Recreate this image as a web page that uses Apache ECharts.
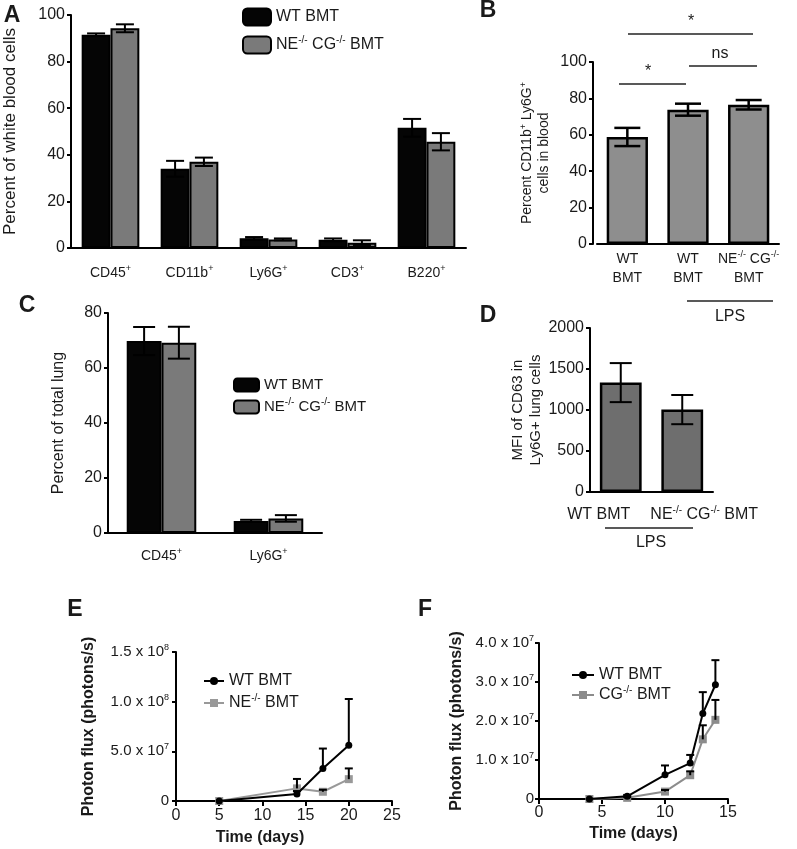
<!DOCTYPE html>
<html><head><meta charset="utf-8">
<script src="https://cdn.jsdelivr.net/npm/echarts@6/dist/echarts.min.js"></script>
<style>html,body{margin:0;padding:0;background:#fff}#c{width:797px;height:849px}</style>
</head><body><div id="c"></div>
<script>
// ---------- Panel A ----------
const catA = ['CD45+', 'CD11b+', 'Ly6G+', 'CD3+', 'B220+'];
const wtA = [91.5, 34.0, 4.2, 3.5, 51.6];
const wtAErr = [0.6, 3.4, 0.5, 0.6, 3.8];
const koA = [94.3, 37.0, 3.7, 2.3, 45.6];
const koAErr = [1.7, 1.8, 0.4, 1.0, 3.7];
// ---------- Panel B ----------
const catB = ['WT BMT', 'WT BMT LPS', 'NE-/- CG-/- BMT LPS'];
const labelB = ['WT\nBMT', 'WT\nBMT', 'NE{s|-/-} CG{s|-/-}\nBMT'];
const valB = [58.8, 73.8, 76.5];
const errB = [5.0, 3.3, 2.6];
// ---------- Panel C ----------
const catC = ['CD45+', 'Ly6G+'];
const wtC = [69.8, 4.4];
const wtCErr = [5.1, 0.4];
const koC = [69.2, 5.3];
const koCErr = [5.8, 1.2];
// ---------- Panel D ----------
const catD = ['WT BMT', 'NE-/- CG-/- BMT'];
const labelD = ['WT BMT', 'NE{s|-/-} CG{s|-/-} BMT'];
const valD = [1334, 1005];
const errD = [238, 178];
// ---------- Panel E ----------
const daysE = [5, 14, 17, 20];
const wtE = [0, 7.0e6, 3.28e7, 5.62e7];
const wtEErr = [0, 3.0e6, 2.0e7, 4.65e7];
const neE = [0, 1.27e7, 0.93e7, 2.2e7];
const neEErr = [0, 9.5e6, 2.0e6, 1.08e7];
// ---------- Panel F ----------
const daysF = [4, 7, 10, 12, 13, 14];
const wtF = [0, 0.7e6, 6.2e6, 9.2e6, 21.9e6, 29.3e6];
const wtFErr = [0, 0.3e6, 2.4e6, 2.1e6, 5.5e6, 6.3e6];
const cgF = [0, 0.3e6, 1.9e6, 6.1e6, 15.3e6, 20.3e6];
const cgFErr = [0, 0.2e6, 0.4e6, 1.0e6, 3.6e6, 5.1e6];

const FONT = 'Liberation Sans, Arial, Helvetica, sans-serif';
const TXT = '#1a1a1a';
const SUP = { fontSize: 9, verticalAlign: 'top', lineHeight: 10, fontFamily: FONT, color: TXT };
const names = {
  A_wt: 'WT BMT', A_ko: 'NE{s|-/-} CG{s|-/-} BMT',
  C_wt: 'WT BMT', C_ko: 'NE{s|-/-} CG{s|-/-} BMT',
  E_wt: 'WT BMT', E_ne: 'NE{s|-/-} BMT',
  F_wt: 'WT BMT', F_cg: 'CG{s|-/-} BMT'
};
const supPlus = v => v.replace(/\+$/, '{s|+}');
const plain = v => String(v);
function sciFmt(v) {
  if (v === 0) return '0';
  const e = Math.floor(Math.log10(v) + 1e-9);
  return (v / Math.pow(10, e)).toFixed(1) + ' x 10{s|' + e + '}';
}

const axisLine = { lineStyle: { color: '#000', width: 2 } };
const axisTick = { length: 5, lineStyle: { color: '#000', width: 2 } };

function catX(gi, data, fmt, margin, extra) {
  return Object.assign({
    type: 'category', gridIndex: gi, data: data,
    axisLine: axisLine, axisTick: Object.assign({ alignWithLabel: true }, axisTick),
    axisLabel: { color: TXT, fontFamily: FONT, fontSize: 14, lineHeight: 18, margin: margin,
      formatter: fmt, rich: { s: SUP }, interval: 0 },
    splitLine: { show: false }
  }, extra || {});
}
function valY(gi, max, interval, name, nameGap, nameStyle, extra) {
  return Object.assign({
    type: 'value', gridIndex: gi, min: 0, max: max, interval: interval,
    axisLine: { show: true, lineStyle: { color: '#000', width: 2 } },
    axisTick: { show: true, length: 4, lineStyle: { color: '#000', width: 2 } },
    axisLabel: { color: TXT, fontFamily: FONT, fontSize: 16, margin: 6, formatter: plain },
    splitLine: { show: false },
    name: name, nameLocation: 'middle', nameGap: nameGap,
    nameTextStyle: Object.assign({ color: TXT, fontFamily: FONT, rich: { s: SUP } }, nameStyle)
  }, extra || {});
}

function errSeries(xi, xs, vals, errs, offsetFrac, capHalf, oneSided, lw) {
  return {
    type: 'custom', xAxisIndex: xi, yAxisIndex: xi, z: 10, silent: true,
    data: vals.map((v, i) => [xs ? xs[i] : i, v, errs[i]]),
    renderItem(params, api) {
      const xv = api.value(0), v = api.value(1), e = api.value(2);
      if (!e) return { type: 'group', children: [] };
      const band = api.size([1, 0])[0];
      const c = api.coord([xv, v]);
      const x = c[0] + offsetFrac * band;
      const top = api.coord([xv, v + e])[1];
      const bot = oneSided ? c[1] : api.coord([xv, v - e])[1];
      const st = { stroke: '#000', lineWidth: lw };
      const ch = [
        { type: 'line', shape: { x1: x, y1: top, x2: x, y2: bot }, style: st },
        { type: 'line', shape: { x1: x - capHalf, y1: top, x2: x + capHalf, y2: top }, style: st }
      ];
      if (!oneSided) ch.push({ type: 'line', shape: { x1: x - capHalf, y1: bot, x2: x + capHalf, y2: bot }, style: st });
      return { type: 'group', children: ch };
    }
  };
}

function barS(id, gi, vals, color, gap, bw) {
  return {
    type: 'bar', name: id, xAxisIndex: gi, yAxisIndex: gi, data: vals,
    barGap: '0%', barCategoryGap: gap, z: 2,
    itemStyle: { color: color, borderColor: '#000', borderWidth: bw }
  };
}
function lineS(id, gi, xs, vals, color, symbol, size, z) {
  return {
    type: 'line', name: id, xAxisIndex: gi, yAxisIndex: gi,
    data: xs.map((x, i) => [x, vals[i]]),
    symbol: symbol, symbolSize: size, showSymbol: true, z: z,
    lineStyle: { color: color, width: 2 },
    itemStyle: { color: color, borderColor: color, borderWidth: 0 }
  };
}

const legendBase = {
  orient: 'vertical', selectedMode: false,
  textStyle: { color: TXT, fontFamily: FONT, fontSize: 16, lineHeight: 20, rich: { s: Object.assign({}, SUP, { fontSize: 10 }) } },
  formatter: n => names[n]
};

const gray = '#7a7a7a';
const option = {
  animation: false,
  backgroundColor: '#fff',
  textStyle: { fontFamily: FONT },
  grid: [
    { left: 71, top: 15, width: 395, height: 233, outerBoundsMode: 'none' },
    { left: 597, top: 62, width: 182, height: 182, outerBoundsMode: 'none' },
    { left: 108, top: 313, width: 214, height: 220, outerBoundsMode: 'none' },
    { left: 590, top: 328, width: 123, height: 164, outerBoundsMode: 'none' },
    { left: 176, top: 652, width: 216, height: 149, outerBoundsMode: 'none' },
    { left: 539, top: 643, width: 189, height: 156, outerBoundsMode: 'none' }
  ],
  xAxis: [
    catX(0, catA, v => supPlus(v), 16),
    catX(1, catB, (v, i) => labelB[i], 6, { axisLabel: { color: TXT, fontFamily: FONT, fontSize: 14, lineHeight: 19, margin: 6,
      formatter: (v, i) => labelB[i], rich: { s: SUP }, interval: 0 } }),
    catX(2, catC, v => supPlus(v), 14),
    catX(3, catD.map((c, i) => ({ value: c, textStyle: { padding: i === 0 ? [0, 44, 0, 0] : [0, 0, 0, 44] } })),
      (v, i) => labelD[i], 13, { axisLabel: { color: TXT, fontFamily: FONT, fontSize: 16, lineHeight: 20, margin: 13,
      formatter: (v, i) => labelD[i], rich: { s: Object.assign({}, SUP, { fontSize: 10 }) }, interval: 0 } }),
    { type: 'value', gridIndex: 4, min: 0, max: 25, interval: 5, axisLine: axisLine,
      axisTick: axisTick, splitLine: { show: false },
      axisLabel: { color: TXT, fontFamily: FONT, fontSize: 16, margin: 7, formatter: plain },
      name: 'Time (days)', nameLocation: 'middle', nameGap: 29,
      nameTextStyle: { color: TXT, fontFamily: FONT, fontSize: 16, fontWeight: 'bold', padding: [0, 48, 0, 0] } },
    { type: 'value', gridIndex: 5, min: 0, max: 15, interval: 5, axisLine: axisLine,
      axisTick: axisTick, splitLine: { show: false },
      axisLabel: { color: TXT, fontFamily: FONT, fontSize: 16, margin: 6, formatter: plain },
      name: 'Time (days)', nameLocation: 'middle', nameGap: 27,
      nameTextStyle: { color: TXT, fontFamily: FONT, fontSize: 16, fontWeight: 'bold' } }
  ],
  yAxis: [
    valY(0, 100, 20, 'Percent of white blood cells', 52, { fontSize: 17 }),
    valY(1, 100, 20, 'Percent CD11b{s|+} Ly6G{s|+}\ncells in blood', 40, { fontSize: 14, lineHeight: 17 }, { offset: 4 }),
    valY(2, 80, 20, 'Percent of total lung', 41, { fontSize: 16 }),
    valY(3, 2000, 500, 'MFI of CD63 in\nLy6G+ lung cells', 41, { fontSize: 15, lineHeight: 18 }),
    valY(4, 1.5e8, 5e7, 'Photon flux (photons/s)', 79, { fontSize: 16, fontWeight: 'bold' },
      { axisLabel: { color: TXT, fontFamily: FONT, fontSize: 15, lineHeight: 18, margin: 7, formatter: sciFmt, rich: { s: SUP } } }),
    valY(5, 4e7, 1e7, 'Photon flux (photons/s)', 74, { fontSize: 16, fontWeight: 'bold' },
      { axisLabel: { color: TXT, fontFamily: FONT, fontSize: 15, lineHeight: 18, margin: 5, formatter: sciFmt, rich: { s: SUP } } })
  ],
  legend: [
    Object.assign({}, legendBase, { left: 237, top: 2, itemWidth: 28, itemHeight: 17, itemGap: 8, icon: 'roundRect',
      data: ['A_wt', 'A_ko'] }),
    Object.assign({}, legendBase, { left: 228, top: 370, itemWidth: 25, itemHeight: 13, itemGap: 2, icon: 'roundRect',
      textStyle: Object.assign({}, legendBase.textStyle, { fontSize: 15 }), data: ['C_wt', 'C_ko'] }),
    Object.assign({}, legendBase, { left: 198, top: 666, itemWidth: 20, itemHeight: 10, itemGap: 2,
      data: ['E_wt', 'E_ne'] }),
    Object.assign({}, legendBase, { left: 566, top: 660, itemWidth: 22, itemHeight: 10, itemGap: 0,
      data: ['F_wt', 'F_cg'] })
  ],
  series: [
    barS('A_wt', 0, wtA, '#050505', '27%', 2),
    barS('A_ko', 0, koA, gray, '27%', 2),
    errSeries(0, null, wtA, wtAErr, -0.1825, 9, false, 2),
    errSeries(0, null, koA, koAErr, 0.1825, 9, false, 2),

    barS('B', 1, valB, '#8e8e8e', '32%', 2.5),
    errSeries(1, null, valB, errB, 0, 13, false, 2.5),

    barS('C_wt', 2, wtC, '#050505', '35%', 2),
    barS('C_ko', 2, koC, gray, '35%', 2),
    errSeries(2, null, wtC, wtCErr, -0.1625, 11, false, 2),
    errSeries(2, null, koC, koCErr, 0.1625, 11, false, 2),

    barS('D', 3, valD, '#6e6e6e', '32%', 2.5),
    errSeries(3, null, valD, errD, 0, 11, false, 2),

    lineS('E_wt', 4, daysE, wtE, '#000', 'circle', 7, 5),
    lineS('E_ne', 4, daysE, neE, '#999', 'rect', 8, 4),
    errSeries(4, daysE, wtE, wtEErr, 0, 4, true, 2),
    errSeries(4, daysE, neE, neEErr, 0, 4, true, 2),

    lineS('F_wt', 5, daysF, wtF, '#000', 'circle', 7, 5),
    lineS('F_cg', 5, daysF, cgF, '#8c8c8c', 'rect', 8, 4),
    errSeries(5, daysF, wtF, wtFErr, 0, 4, true, 2),
    errSeries(5, daysF, cgF, cgFErr, 0, 4, true, 2)
  ],
  graphic: []
};

function txt(t, x, y, size, bold) {
  return { type: 'text', silent: true, style: { text: t, x: x, y: y, fill: TXT,
    font: (bold ? 'bold ' : '') + size + 'px ' + FONT,
    align: 'center', verticalAlign: 'middle', textAlign: 'center', textVerticalAlign: 'middle' } };
}
function ln(x1, y1, x2, y2) {
  return { type: 'line', silent: true, shape: { x1, y1, x2, y2 }, style: { stroke: '#222', lineWidth: 1.3 } };
}
option.graphic = [
  txt('A', 12, 16, 23, true),
  txt('B', 488, 11, 23, true),
  txt('C', 27, 306, 23, true),
  txt('D', 488, 316, 23, true),
  txt('E', 75, 610, 23, true),
  txt('F', 425, 610, 23, true),
  // significance bars panel B
  ln(619, 84, 686, 84), txt('*', 648, 72, 16, false),
  ln(689, 66, 757, 66), txt('ns', 720, 54, 16, false),
  ln(628, 34, 753, 34), txt('*', 691, 22, 16, false),
  // LPS brackets
  ln(687, 301, 773, 301), txt('LPS', 730, 317, 16, false),
  ln(605, 528, 693, 528), txt('LPS', 651, 543, 16, false)
];

const chart = echarts.init(document.getElementById('c'), null, { renderer: 'canvas' });
chart.setOption(option);
</script>
</body></html>
